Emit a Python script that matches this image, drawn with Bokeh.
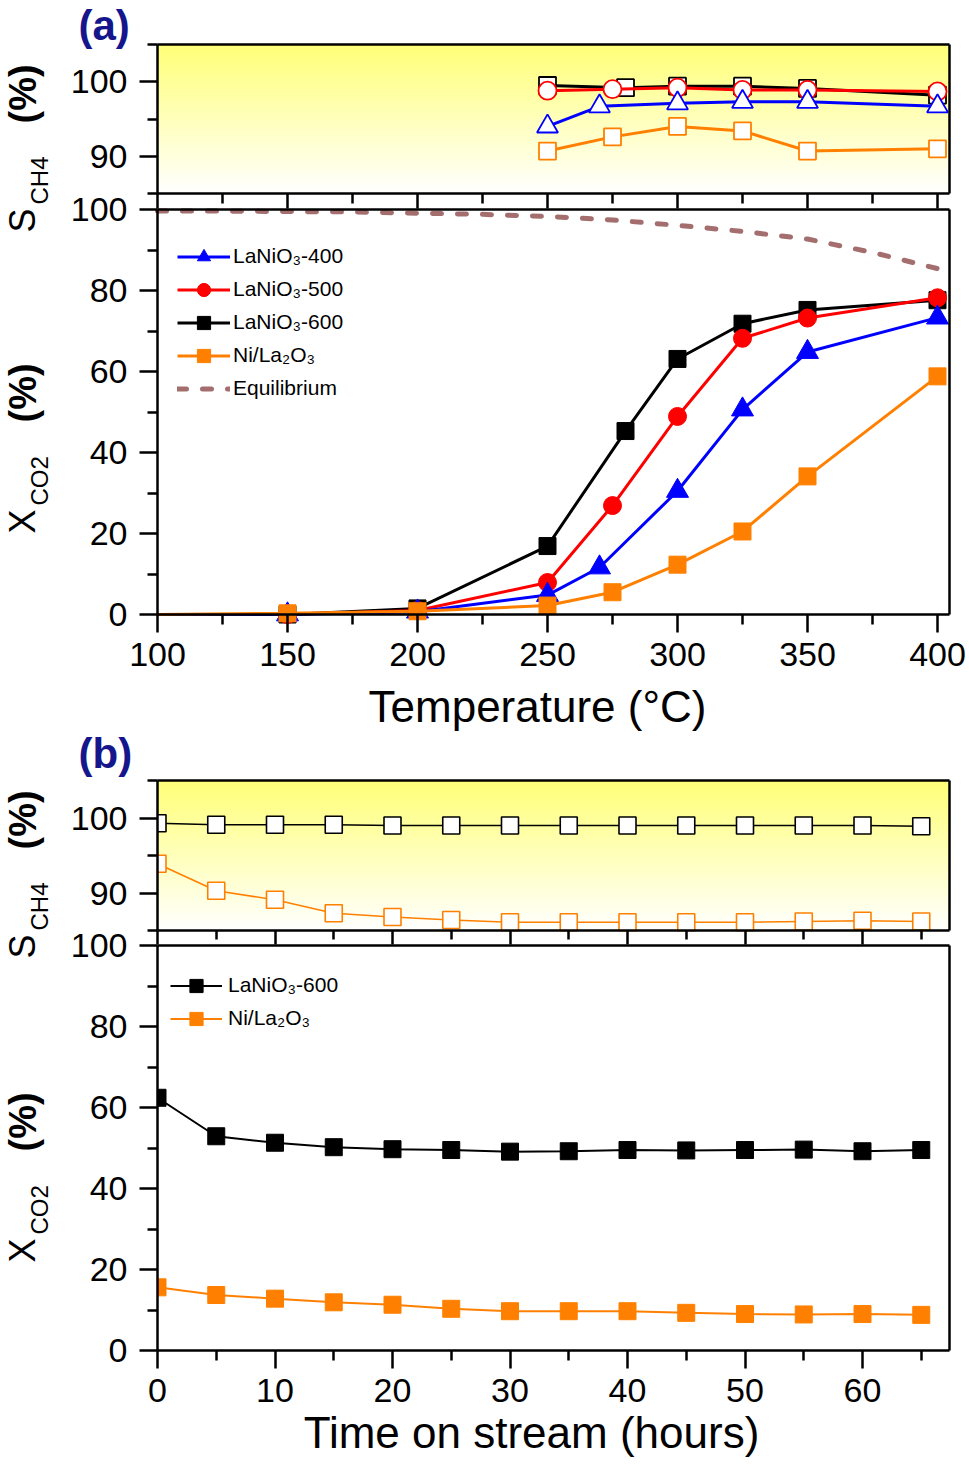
import numpy as np
from bokeh.plotting import figure
from bokeh.models import Range1d, LinearAxis, FixedTicker, Label, Legend, LegendItem
from bokeh.embed import file_html
from bokeh.resources import INLINE

# ---------------- data : panel (a) ----------------
temp_400 = [100, 150, 200, 250, 270, 300, 325, 350, 400]
xco2_400 = [0, 0, 0.7, 4.8, 11.6, 30.5, 50.6, 64.8, 73.3]
temp_500 = [100, 150, 200, 250, 275, 300, 325, 350, 400]
xco2_500 = [0, 0, 1.0, 7.9, 26.9, 48.9, 68.2, 73.2, 78.2]
temp_600 = [100, 150, 200, 250, 280, 300, 325, 350, 400]
xco2_600 = [0, 0, 1.5, 16.9, 45.3, 63.1, 71.8, 75.2, 77.6]
temp_ni = [100, 150, 200, 250, 275, 300, 325, 350, 400]
xco2_ni = [0, 0.3, 0.8, 2.2, 5.5, 12.3, 20.5, 34.1, 58.8]
temp_eq = [100, 125, 150, 175, 200, 225, 250, 275, 300, 325, 350, 375, 400]
xco2_eq = [99.6, 99.6, 99.5, 99.4, 99.1, 98.8, 98.3, 97.4, 96.1, 94.6, 92.7, 89.4, 85.4]

sel_temp_400 = [250, 270, 300, 325, 350, 400]
sch4_400 = [94.0, 96.7, 97.1, 97.3, 97.3, 96.7]
sel_temp_500 = [250, 275, 300, 325, 350, 400]
sch4_500 = [98.8, 99.0, 99.2, 98.9, 98.9, 98.7]
sel_temp_600 = [250, 280, 300, 325, 350, 400]
sch4_600 = [99.5, 99.2, 99.4, 99.4, 99.1, 98.2]
sel_temp_ni = [250, 275, 300, 325, 350, 400]
sch4_ni = [90.7, 92.6, 94.0, 93.4, 90.7, 91.0]

# ---------------- data : panel (b) ----------------
time_h = [0, 5, 10, 15, 20, 25, 30, 35, 40, 45, 50, 55, 60, 65]
xco2_600_t = [62.4, 52.9, 51.3, 50.2, 49.7, 49.5, 49.1, 49.2, 49.5, 49.4, 49.5, 49.6, 49.2, 49.5]
xco2_ni_t = [15.6, 13.7, 12.8, 11.9, 11.3, 10.3, 9.7, 9.7, 9.7, 9.3, 9.0, 8.9, 9.0, 8.8]
sch4_600_t = [99.3, 99.1, 99.1, 99.1, 99.0, 99.0, 99.0, 99.0, 99.0, 99.0, 99.0, 99.0, 99.0, 98.9]
sch4_ni_t = [93.9, 90.3, 89.1, 87.3, 86.8, 86.4, 86.1, 86.1, 86.1, 86.1, 86.1, 86.2, 86.3, 86.2]

# tick values
temp_major = [100, 150, 200, 250, 300, 350, 400]
temp_minor = [125, 175, 225, 275, 325, 375]
time_major = [0, 10, 20, 30, 40, 50, 60]
time_minor = [5, 15, 25, 35, 45, 55, 65]
x_major = [0, 20, 40, 60, 80, 100]
x_minor = [10, 30, 50, 70, 90]
s_major = [90, 100]
s_minor = [85, 95, 105]

# ---------------- layout (page pixels; the whole canvas is the frame) ----------------
W, H = 968, 1462
PL, PR = 157, 949                 # panel left / right edges
SA = (44, 193, 85, 105)           # top, bottom, vmin, vmax
MA = (209, 614, 0, 100)
SB = (780, 930, 85, 105)
MB = (945, 1350, 0, 100)
T_PX = 2.6                        # px per degree
H_PX = 11.75                      # px per hour
T_END = 100 + (PR - PL) / T_PX
H_END = (PR - PL) / H_PX
FONT = "Liberation Sans"
ORANGE = "#FF8000"
EQ = "#A46E6E"
NAVY = "#16168C"
BASE_SHIFT = 0.36                 # anchor-to-baseline offset of Label text (fraction of size)


def yr(top, bottom, vmin, vmax):
    k = (vmax - vmin) / (bottom - top)
    return Range1d(vmin - (H - bottom) * k, vmax + top * k)


p = figure(width=W, height=H,
           x_range=Range1d(100 - PL / T_PX, 100 + (W - PL) / T_PX), y_range=yr(*MA),
           output_backend="svg", toolbar_location=None,
           x_axis_location=None, y_axis_location=None,
           min_border_left=0, min_border_right=0, min_border_top=0, min_border_bottom=0,
           outline_line_color=None, border_fill_color="white",
           background_fill_color="white")
p.grid.visible = False
p.extra_x_ranges = {"time": Range1d(-PL / H_PX, (W - PL) / H_PX), "px": Range1d(0, W)}
p.extra_y_ranges = {"sa": yr(*SA), "sb": yr(*SB), "mb": yr(*MB), "px": Range1d(H, 0)}


def axis(side, xr, yrn, loc, bounds, major=(), minor=(), labels=False,
         major_out=18, minor_out=10, standoff=12):
    ax = LinearAxis(x_range_name=xr, y_range_name=yrn, fixed_location=loc, bounds=bounds,
                    ticker=FixedTicker(ticks=list(major), minor_ticks=list(minor)),
                    axis_line_width=2.5, axis_line_color="black",
                    major_tick_line_width=2.5, minor_tick_line_width=2.5,
                    major_tick_in=0, minor_tick_in=0,
                    major_tick_out=major_out, minor_tick_out=minor_out,
                    major_label_text_font=FONT, major_label_text_font_size="34px",
                    major_label_text_color="black" if labels else None,
                    major_label_standoff=standoff)
    p.add_layout(ax, side)


# ---- panel (a) frames / axes ----
axis("left", "default", "sa", 100, (85, 105), s_major, s_minor, labels=True)
axis("left", "default", "default", 100, (0, 100), x_major, x_minor, labels=True)
axis("right", "default", "sa", T_END, (85, 105), major_out=0, minor_out=0)
axis("right", "default", "default", T_END, (0, 100), major_out=0, minor_out=0)
axis("above", "default", "sa", 105, (100, T_END), major_out=0, minor_out=0)
axis("above", "default", "default", 100, (100, T_END), major_out=0, minor_out=0)
axis("below", "default", "sa", 85, (100, T_END), temp_major, temp_minor,
     major_out=15, minor_out=10)
axis("below", "default", "default", 0, (100, T_END), temp_major, temp_minor,
     labels=True, standoff=10)

# ---- panel (b) frames / axes ----
axis("left", "time", "sb", 0, (85, 105), s_major, s_minor, labels=True)
axis("left", "time", "mb", 0, (0, 100), x_major, x_minor, labels=True)
axis("right", "time", "sb", H_END, (85, 105), major_out=0, minor_out=0)
axis("right", "time", "mb", H_END, (0, 100), major_out=0, minor_out=0)
axis("above", "time", "sb", 105, (0, H_END), major_out=0, minor_out=0)
axis("above", "time", "mb", 100, (0, H_END), major_out=0, minor_out=0)
axis("below", "time", "sb", 85, (0, H_END), time_major, time_minor,
     major_out=14, minor_out=9)
axis("below", "time", "mb", 0, (0, H_END), time_major, time_minor,
     labels=True, standoff=10)

# ---- yellow gradient backgrounds of the selectivity panels ----
n = 150
grad = np.zeros((n, 1), dtype=np.uint32)
view = grad.view(dtype=np.uint8).reshape((n, 1, 4))
for i in range(n):
    t = i / (n - 1)
    view[i, 0] = [255, 255, int(round(255 - t * (255 - 120))), 255]
p.image_rgba(image=[grad], x=100, y=85, dw=T_END - 100, dh=20, y_range_name="sa", level="image")
p.image_rgba(image=[grad], x=0, y=85, dw=H_END, dh=20, x_range_name="time",
             y_range_name="sb", level="image")

# ---- panel (a) main : CO2 conversion ----
eq_r = p.line(temp_eq, xco2_eq, line_color=EQ, line_width=5, line_dash="9 16", line_cap="round")
series_a = [
    ("LaNiO₃-600", temp_600, xco2_600, "black", "square", 17),
    ("LaNiO₃-500", temp_500, xco2_500, "red", "circle", 18),
    ("LaNiO₃-400", temp_400, xco2_400, "blue", "triangle", 22),
    ("Ni/La₂O₃", temp_ni, xco2_ni, ORANGE, "square", 17),
]
rends = {}
for name, tx, yv, col, mk, sz in series_a:
    lr = p.line(tx, yv, line_color=col, line_width=3)
    sr = p.scatter(tx[1:], yv[1:], marker=mk, size=sz, fill_color=col, line_color=col, line_width=1)
    rends[name] = [lr, sr]

# ---- panel (a) top : CH4 selectivity ----
series_sa = [
    (sel_temp_600, sch4_600, "black", "square", 17),
    (sel_temp_500, sch4_500, "red", "circle", 18),
    (sel_temp_400, sch4_400, "blue", "triangle", 21),
    (sel_temp_ni, sch4_ni, ORANGE, "square", 17),
]
for tx, yv, col, mk, sz in series_sa:
    p.line(tx, yv, line_color=col, line_width=3, y_range_name="sa")
    p.scatter(tx, yv, marker=mk, size=sz, fill_color="white", line_color=col,
              line_width=1.8, y_range_name="sa")

# ---- panel (b) ----
b_rends = {}
for name, yv, col in [("LaNiO₃-600", xco2_600_t, "black"), ("Ni/La₂O₃", xco2_ni_t, ORANGE)]:
    lr = p.line(time_h, yv, line_color=col, line_width=2, x_range_name="time", y_range_name="mb")
    sr = p.scatter(time_h, yv, marker="square", size=17, fill_color=col, line_color=col,
                   line_width=1, x_range_name="time", y_range_name="mb")
    b_rends[name] = [lr, sr]
for yv, col in [(sch4_600_t, "black"), (sch4_ni_t, ORANGE)]:
    p.line(time_h, yv, line_color=col, line_width=1.6, x_range_name="time", y_range_name="sb")
    p.scatter(time_h, yv, marker="square", size=17, fill_color="white", line_color=col,
              line_width=1.6, x_range_name="time", y_range_name="sb")

# panel (b) clips its markers at the left frame edge
p.quad(left=[128], right=[PL], bottom=[MB[1] + 5], top=[SB[0] - 5],
       x_range_name="px", y_range_name="px", fill_color="white", line_color=None)

# ---- legends ----
leg_a = Legend(items=[LegendItem(label="LaNiO₃-400", renderers=rends["LaNiO₃-400"]),
                      LegendItem(label="LaNiO₃-500", renderers=rends["LaNiO₃-500"]),
                      LegendItem(label="LaNiO₃-600", renderers=rends["LaNiO₃-600"]),
                      LegendItem(label="Ni/La₂O₃", renderers=rends["Ni/La₂O₃"]),
                      LegendItem(label="Equilibrium", renderers=[eq_r])],
               location=(177, H - 404.5), padding=0, margin=0, spacing=0,
               glyph_width=53, glyph_height=33, label_height=33, label_standoff=3,
               label_text_font=FONT, label_text_font_size="21px", label_text_color="black",
               background_fill_alpha=0, border_line_color=None)
p.add_layout(leg_a)
leg_b = Legend(items=[LegendItem(label="LaNiO₃-600", renderers=b_rends["LaNiO₃-600"]),
                      LegendItem(label="Ni/La₂O₃", renderers=b_rends["Ni/La₂O₃"])],
               location=(170, H - 1034.5), padding=0, margin=0, spacing=0,
               glyph_width=52, glyph_height=33, label_height=33, label_standoff=6,
               label_text_font=FONT, label_text_font_size="21px", label_text_color="black",
               background_fill_alpha=0, border_line_color=None)
p.add_layout(leg_b)


# ---- texts: panel letters, x titles and rotated y titles ----
def txt(x, y, s, size, bold=False, color="black", angle=0, align="left"):
    # (x, y) is the wanted start / baseline point of the text in page pixels
    if angle == 0:
        y = y - BASE_SHIFT * size
    else:
        x = x - BASE_SHIFT * size
    p.add_layout(Label(x=x, y=y, x_range_name="px", y_range_name="px", text=s,
                       text_font=FONT, text_font_size=f"{size}px",
                       text_font_style="bold" if bold else "normal", text_color=color,
                       angle=angle, angle_units="deg", text_align=align,
                       text_baseline="alphabetic"))


txt(78, 40, "(a)", 42, bold=True, color=NAVY)
txt(78, 768, "(b)", 42, bold=True, color=NAVY)
txt(537, 722, "Temperature (°C)", 44, align="center")
txt(531, 1448, "Time on stream (hours)", 44, align="center")

# rotated y titles: (start y of main letter, letter, subscript, start y of "(%)")
for y0, letter, sub, ypct in [(232, "S", "CH4", 123), (533, "X", "CO2", 422),
                              (958, "S", "CH4", 849), (1262, "X", "CO2", 1151)]:
    txt(35, y0, letter, 36, angle=90)
    txt(48, y0 - 28, sub, 24, angle=90)
    txt(36, ypct, "(%)", 38, bold=True, angle=90)

open("out.html", "w").write(file_html(p, INLINE))
